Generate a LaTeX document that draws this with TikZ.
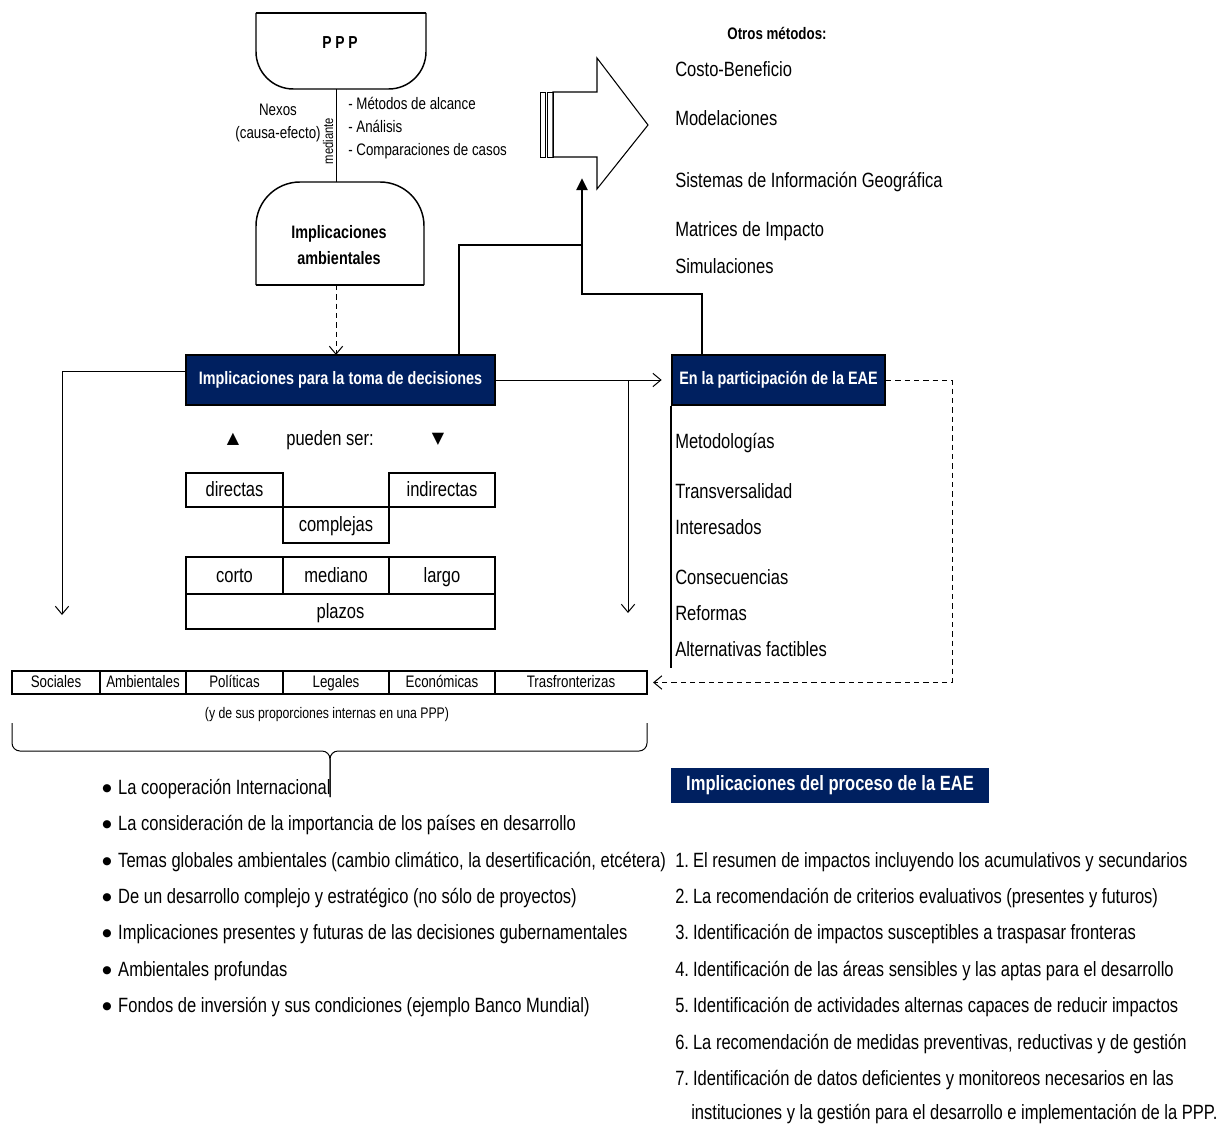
\documentclass[tikz,border=0pt]{standalone}
\usepackage{fontspec}
\setmainfont[FakeStretch=0.8]{Liberation Sans}
\newfontfamily\sym{DejaVu Sans}
\usetikzlibrary{arrows.meta}
\definecolor{navy}{RGB}{0,32,96}
\begin{document}
\begin{tikzpicture}[x=0.75pt,y=-0.75pt,
 body/.style={inner sep=0,anchor=base west,font=\fontsize{15.5}{18}\selectfont},
 med/.style={inner sep=0,font=\fontsize{12.5}{17}\selectfont},
 cell/.style={draw,line width=1.1pt,inner sep=0,text height=11pt,text depth=1pt,font=\fontsize{15.5}{18}\selectfont},
 cat/.style={draw,line width=1.1pt,inner sep=0,minimum height=17.25pt,text height=9pt,text depth=1pt,font=\fontsize{12.5}{14}\selectfont},
 dark/.style={fill=navy,draw=black,line width=1.5pt,text=white,inner sep=0,font=\bfseries\fontsize{13.5}{16}\selectfont},
 thinline/.style={line width=0.75pt},
 barb/.style={-{Straight Barb[length=6pt,width=10pt]}},
 heavy/.style={line width=2.2pt},
 dsh/.style={dash pattern=on 4pt off 3pt}
]
\useasboundingbox (0,0) rectangle (1223,1124);
\fill[white] (0,0) rectangle (1223,1124);

% ---------- PPP shape
\draw[line width=1.1pt,rounded corners=28pt] (256,13) -- (256,89) -- (426,89) -- (426,13);
\draw[line width=1.1pt] (256,13) -- (426,13);
\node[inner sep=0,font=\bfseries\fontsize{13}{15}\selectfont] (ppp) at (340,43) {P P P};
\coordinate (pppB) at (336,89);

% ---------- Implicaciones ambientales shape
\draw[line width=1.1pt,rounded corners=33pt] (256,285) -- (256,182) -- (424,182) -- (424,285);
\draw[line width=1.1pt] (256,285) -- (424,285);
\node[inner sep=0,align=center,font=\bfseries\fontsize{13.5}{19.5}\selectfont] (amb) at (339,245) {Implicaciones\\ambientales};
\coordinate (ambT) at (336,182);
\coordinate (ambB) at (336,285);

\draw[thinline] (pppB) -- (ambT);
\node[inner sep=0,rotate=90,font=\fontsize{10.5}{12}\selectfont] (med) at (328,141) {mediante};
\node[med,align=center] (nexos) at (278,123) {Nexos\\(causa-efecto)};
\node[med,anchor=base west] (m1) at (348,109) {- Métodos de alcance};
\node[med,anchor=base west] (m2) at (348,132) {- Análisis};
\node[med,anchor=base west] (m3) at (348,155) {- Comparaciones de casos};

% ---------- decision box
\node[dark,minimum width=231.75pt,minimum height=37.5pt] (dec) at (340.5,380) {Implicaciones para la toma de decisiones};
\coordinate (decT) at (336,355);
\draw[thinline,dsh,barb] (ambB) -- (decT);

% ---------- EAE box
\node[dark,minimum width=159.75pt,minimum height=37.5pt] (eae) at (778.5,380) {En la participación de la EAE};
\draw[line width=1.1pt] (eae.south west) -- ++(0,262);

% ---------- big arrow
\draw[line width=0.8pt] (553,92) -- (597,92) -- (597,58) -- (648,125) -- (597,189) -- (597,157) -- (553,157) -- cycle;
\draw[line width=0.6pt] (540,92) rectangle (545,157);
\draw[line width=0.6pt] (547,92) rectangle (553,157);
\coordinate (arrB) at (582,178);

% ---------- otros metodos
\node[inner sep=0,font=\bfseries\fontsize{12.5}{15}\selectfont] (otros) at (777,33) {Otros métodos:};
\node[body] (o1) at (675,77) {Costo-Beneficio};
\node[body] (o2) at (675,125) {Modelaciones};
\node[body] (o3) at (675,187) {Sistemas de Información Geográfica};
\node[body] (o4) at (675,236) {Matrices de Impacto};
\node[body] (o5) at (675,273) {Simulaciones};

% ---------- thick connectors
\coordinate (decTop2) at (459,355);
\coordinate (k1) at (459,245);
\coordinate (k2) at (582,245);
\coordinate (eaeTop) at (702,355);
\draw[heavy] (decTop2) -- (k1) -- (k2);
\draw[heavy,-{Triangle[length=9pt,width=8pt]}] (eaeTop) -- (702,294) -- (582,294) -- (arrB);

% ---------- thin connectors from decision box
\coordinate (decL) at (186,371);
\coordinate (leftEnd) at (62,615);
\draw[thinline,barb] (decL) -- (62,371) -- (leftEnd);
\draw[thinline,barb,shorten >=7pt] (dec.east) -- (eae.west);
\coordinate (rv) at (628,380);
\coordinate (rvEnd) at (628,613);
\draw[thinline,barb] (rv) -- (rvEnd);

% ---------- pueden ser
\node[inner sep=0,font=\sym\fontsize{12}{14}\selectfont] (up) at (233,439) {▲};
\node[inner sep=0,font=\fontsize{15.5}{18}\selectfont] (pueden) at (330,440) {pueden ser:};
\node[inner sep=0,font=\sym\fontsize{12}{14}\selectfont] (down) at (438,439) {▼};

% ---------- table of cells
\node[cell,minimum width=72.75pt,minimum height=25.5pt] (dir) at (234.5,490) {directas};
\node[cell,minimum width=79.5pt,minimum height=25.5pt] (ind) at (442,490) {indirectas};
\node[cell,minimum width=79.5pt,minimum height=27pt] (comp) at (336,525) {complejas};
\node[cell,minimum width=72.75pt,minimum height=27.75pt] (corto) at (234.5,575.5) {corto};
\node[cell,minimum width=79.5pt,minimum height=27.75pt] (mediano) at (336,575.5) {mediano};
\node[cell,minimum width=79.5pt,minimum height=27.75pt] (largo) at (442,575.5) {largo};
\node[cell,minimum width=231.75pt,minimum height=26.25pt] (plazos) at (340.5,611.5) {plazos};

% ---------- EAE list
\node[body] (e1) at (675,448) {Metodologías};
\node[body] (e2) at (675,498) {Transversalidad};
\node[body] (e3) at (675,534) {Interesados};
\node[body] (e4) at (675,584) {Consecuencias};
\node[body] (e5) at (675,620) {Reformas};
\node[body] (e6) at (675,656) {Alternativas factibles};

% ---------- categories
\node[cat,minimum width=66pt] (c1) at (56,682.5) {Sociales};
\node[cat,minimum width=64.5pt] (c2) at (143,682.5) {Ambientales};
\node[cat,minimum width=72.75pt] (c3) at (234.5,682.5) {Políticas};
\node[cat,minimum width=79.5pt] (c4) at (336,682.5) {Legales};
\node[cat,minimum width=79.5pt] (c5) at (442,682.5) {Económicas};
\node[cat,minimum width=114pt] (c6) at (571,682.5) {Trasfronterizas};
\draw[thinline,dsh,barb,shorten >=4pt] (eae.east) -- ++(66,0) |- (c6.east);
\node[inner sep=0,font=\fontsize{11.5}{13}\selectfont] (prop) at (327,715) {(y de sus proporciones internas en una PPP)};

% ---------- brace
\draw[thinline,rounded corners=6pt] (12,723) -- (12,751) -- (330,751) -- (330,797);
\draw[thinline,rounded corners=6pt] (647,723) -- (647,751) -- (330,751) -- (330,797);

% ---------- bullet list
\newcommand{\bul}{\raisebox{2pt}{\sym\fontsize{8}{8}\selectfont ●}\hspace{5pt}}
\node[body] (b1) at (102,794) {\bul La cooperación Internacional};
\node[body] (b2) at (102,830) {\bul La consideración de la importancia de los países en desarrollo};
\node[body] (b3) at (102,867) {\bul Temas globales ambientales (cambio climático, la desertificación, etcétera)};
\node[body] (b4) at (102,903) {\bul De un desarrollo complejo y estratégico (no sólo de proyectos)};
\node[body] (b5) at (102,939) {\bul Implicaciones presentes y futuras de las decisiones gubernamentales};
\node[body] (b6) at (102,976) {\bul Ambientales profundas};
\node[body] (b7) at (102,1012) {\bul Fondos de inversión y sus condiciones (ejemplo Banco Mundial)};

% ---------- proceso
\node[fill=navy,text=white,inner sep=0,minimum width=238.5pt,minimum height=26.25pt,font=\bfseries\fontsize{15.5}{18}\selectfont] (proc) at (830,785.5) {Implicaciones del proceso de la EAE};
\node[body] (n1) at (675,867) {1.\hspace{3pt}El resumen de impactos incluyendo los acumulativos y secundarios};
\node[body] (n2) at (675,903) {2.\hspace{3pt}La recomendación de criterios evaluativos (presentes y futuros)};
\node[body] (n3) at (675,939) {3.\hspace{3pt}Identificación de impactos susceptibles a traspasar fronteras};
\node[body] (n4) at (675,976) {4.\hspace{3pt}Identificación de las áreas sensibles y las aptas para el desarrollo};
\node[body] (n5) at (675,1012) {5.\hspace{3pt}Identificación de actividades alternas capaces de reducir impactos};
\node[body] (n6) at (675,1049) {6.\hspace{3pt}La recomendación de medidas preventivas, reductivas y de gestión};
\node[body] (n7) at (675,1085) {7.\hspace{3pt}Identificación de datos deficientes y monitoreos necesarios en las};
\node[body] (n8) at (691,1119) {instituciones y la gestión para el desarrollo e implementación de la PPP.};
\end{tikzpicture}
\end{document}
